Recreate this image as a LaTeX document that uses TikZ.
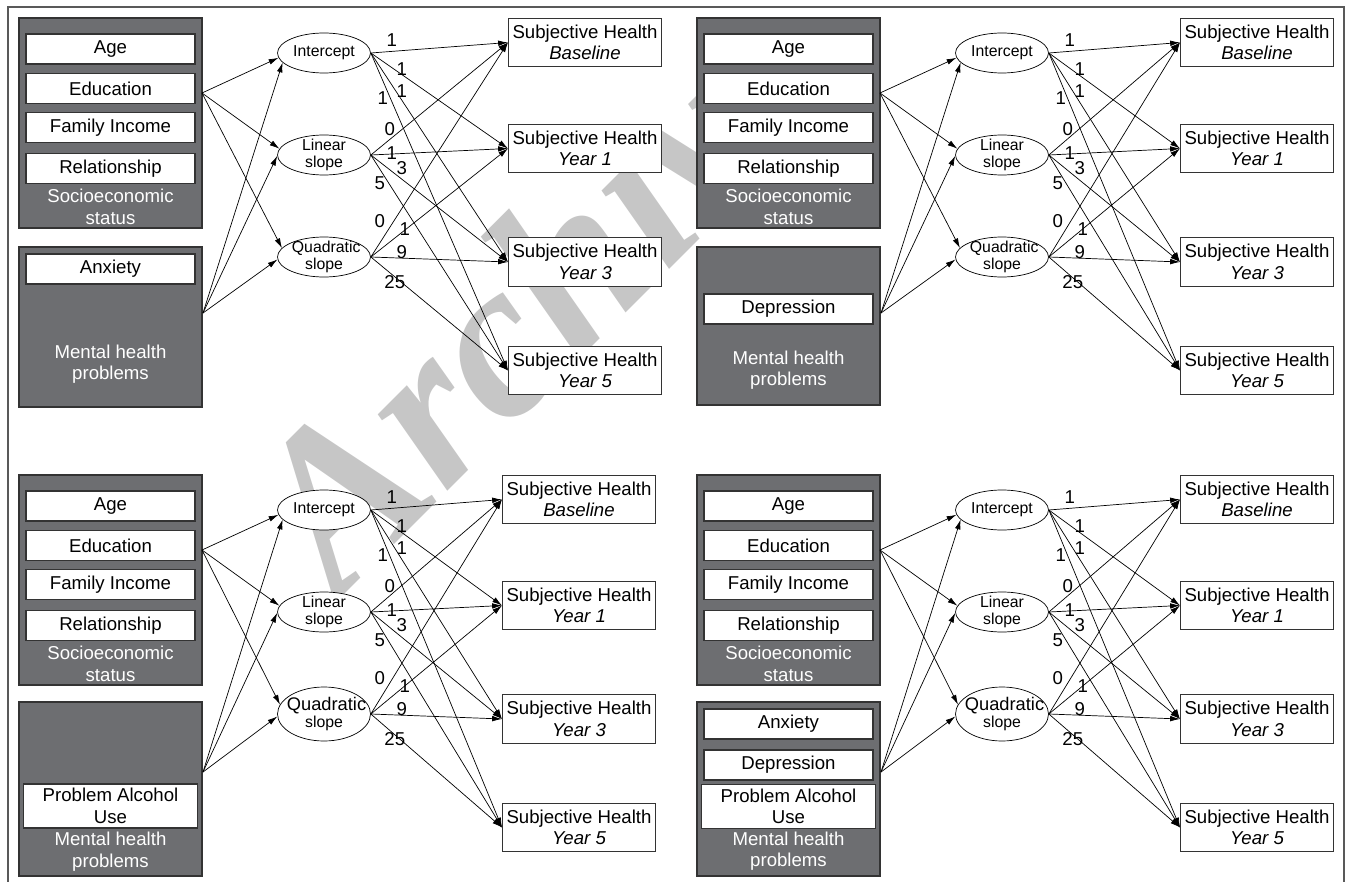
\documentclass[tikz,border=0pt]{standalone}
\usepackage{fontspec}
\setmainfont{Liberation Sans}
\newfontfamily\markfont{Liberation Serif}
\usetikzlibrary{arrows.meta,calc,shapes.geometric,positioning}

\definecolor{panelgray}{HTML}{6D6E71}
\definecolor{edgegray}{HTML}{333333}
\definecolor{markgray}{HTML}{C6C6C6}

\newcommand{\diagfont}{\fontsize{10.6}{12.2}\selectfont}
\newcommand{\latfont}{\fontsize{9}{9.6}\selectfont}

% socioeconomic block, same in every panel
\newcommand{\sesgroup}{%
  \node[group, minimum width=3.66cm, minimum height=4.2cm] (ses) at (110.5,123) {};
  \node[item] (age) at (110.5,49) {Age};
  \node[item] (edu) at (110.5,88.5) {Education};
  \node[item] (inc) at (110.5,127.5) {Family Income};
  \node[item] (rel) at (110.5,168.5) {Relationship};
  \node[grouptitle] (sestitle) at (110.5,207) {Socioeconomic\\status};
  \coordinate (sesout) at (202,93);
}

% growth factors, outcomes and loadings
% #1 = x of outcome column, #2 = height of quadratic ellipse, #3 = font of "Quadratic"
\newcommand{\growthmodel}[3]{%
  \node[latent, label={[latlabel]center:Intercept}] (int) at (324,53) {};
  \node[latent, label={[latlabel]center:{Linear\\slope}}] (lin) at (324,155) {};
  \node[latent, minimum height=#2, label={[latlabel]center:{{#3 Quadratic}\\slope}}] (quad) at (324,257) {};
  \node[outcome] (b0) at (#1,42.5) {Subjective Health\\\textit{Baseline}};
  \node[outcome] (y1) at (#1,148.5) {Subjective Health\\\textit{Year 1}};
  \node[outcome] (y3) at (#1,262) {Subjective Health\\\textit{Year 3}};
  \node[outcome] (y5) at (#1,370.5) {Subjective Health\\\textit{Year 5}};
  % loadings
  \foreach \f/\t/\dx/\dy/\w in {int/b0/21/-13/1, int/y1/31/16/1, int/y3/31/38/1, int/y5/12/45/1,
      lin/b0/19/-26/0, lin/y1/21/-2/1, lin/y3/31/13/3, lin/y5/9/28/5,
      quad/b0/9/-36/0, quad/y1/34/-28/1, quad/y3/31/-5/9, quad/y5/24/25/25} {
    \draw[arr] (\f.east) -- (\t.west);
    \node[num] (w-\f-\t) at ($(\f.east)+(\dx,\dy)$) {\w};
  }
  % predictors
  \foreach \f/\a in {int/186, lin/172, quad/168}
    \draw[arr] (sesout) -- (\f.\a);
  \foreach \f/\a in {int/193, lin/181, quad/183}
    \draw[arr] (mhout) -- (\f.\a);
}

\begin{document}
\begin{tikzpicture}[x=0.02cm, y=-0.02cm,
    group/.style={draw=edgegray, fill=panelgray, line width=0.6pt, inner sep=0pt},
    item/.style={draw=edgegray, fill=white, line width=0.6pt, minimum width=3.38cm,
      minimum height=0.6cm, inner sep=0pt, align=center, font=\diagfont},
    grouptitle/.style={text=white, align=center, inner sep=0pt, font=\diagfont},
    outcome/.style={draw=edgegray, fill=white, line width=0.6pt, minimum width=3.06cm,
      minimum height=0.97cm, inner sep=0pt, align=center, font=\diagfont},
    latent/.style={ellipse, draw=black, fill=white, line width=0.4pt, minimum width=1.86cm,
      minimum height=0.8cm, inner sep=0pt},
    latlabel/.style={align=center, inner sep=0pt, font=\latfont},
    num/.style={inner sep=0pt, font=\diagfont},
    arr/.style={-{Latex[length=5.6pt,width=3.2pt]}, line width=0.4pt}]
  \useasboundingbox (0,0) rectangle (1346,882);

  % watermark
  \node[text=markgray, rotate=45, inner sep=0pt,
    font=\markfont\bfseries\itshape\fontsize{128}{128}\selectfont] (mark) at (540,290) {Archive};

  % frame
  \draw[line width=0.7pt, black!65] (8,882) -- (8,7) -- (1344,7) -- (1344,882);

  % top left: anxiety
  \begin{scope}[name prefix=a-]
    \sesgroup
    \node[group, minimum width=3.66cm, minimum height=3.2cm] (mh) at (110.5,327) {};
    \node[item] (anx) at (110.5,269) {Anxiety};
    \node[grouptitle] (mhtitle) at (110.5,364) {Mental health\\problems};
    \coordinate (mhout) at (203,313);
    \growthmodel{585}{0.8cm}{}
  \end{scope}

  % top right: depression
  \begin{scope}[shift={(678,0)}, name prefix=d-]
    \sesgroup
    \node[group, minimum width=3.66cm, minimum height=3.16cm] (mh) at (110.5,326) {};
    \node[item] (dep) at (110.5,309) {Depression};
    \node[grouptitle] (mhtitle) at (110.5,370) {Mental health\\problems};
    \coordinate (mhout) at (203,313);
    \growthmodel{579}{0.8cm}{}
  \end{scope}

  % bottom left: problem alcohol use
  \begin{scope}[shift={(0,457)}, name prefix=p-]
    \sesgroup
    \node[group, minimum width=3.66cm, minimum height=3.48cm] (mh) at (110.5,332) {};
    \node[item, minimum width=3.48cm, minimum height=0.88cm] (pau) at (110.5,349) {Problem Alcohol\\Use};
    \node[grouptitle] (mhtitle) at (110.5,394.5) {Mental health\\problems};
    \coordinate (mhout) at (203,315);
    \growthmodel{579}{1.08cm}{\fontsize{10.4}{11}\selectfont}
  \end{scope}

  % bottom right: all three
  \begin{scope}[shift={(678,457)}, name prefix=m-]
    \sesgroup
    \node[group, minimum width=3.66cm, minimum height=3.48cm] (mh) at (110.5,332) {};
    \node[item] (anx) at (110.5,267) {Anxiety};
    \node[item] (dep) at (110.5,308) {Depression};
    \node[item, minimum width=3.48cm, minimum height=0.88cm] (pau) at (110.5,349.5) {Problem Alcohol\\Use};
    \node[grouptitle] (mhtitle) at (110.5,394) {Mental health\\problems};
    \coordinate (mhout) at (203,315);
    \growthmodel{579}{1.08cm}{\fontsize{10.4}{11}\selectfont}
  \end{scope}
\end{tikzpicture}
\end{document}
